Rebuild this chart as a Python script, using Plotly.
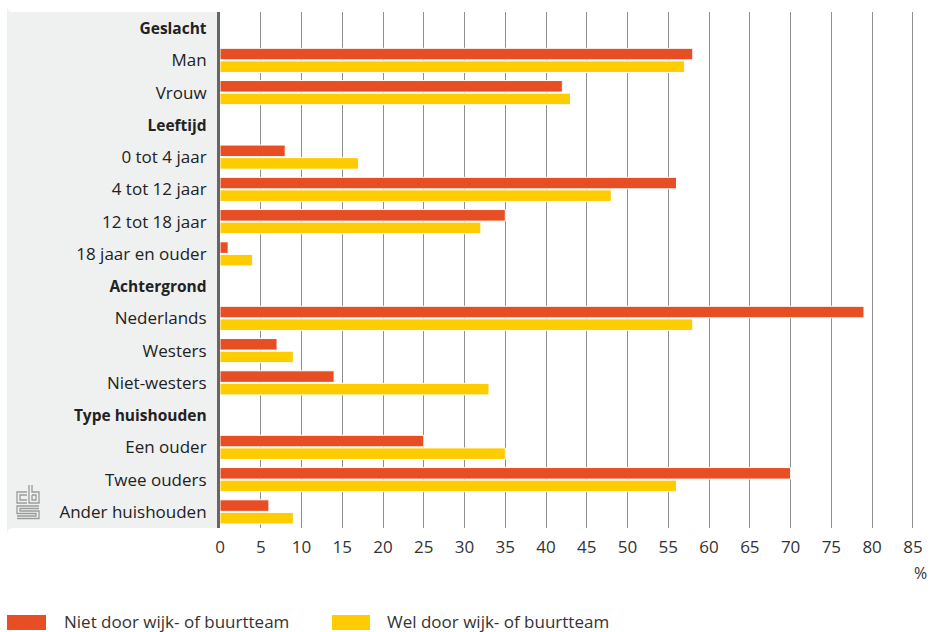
import plotly.graph_objects as go

B_ = "<span style='font-size:15.5px'><b>{}</b></span>"
categories = [B_.format("Geslacht"), "Man", "Vrouw", B_.format("Leeftijd"), "0 tot 4 jaar", "4 tot 12 jaar",
              "12 tot 18 jaar", "18 jaar en ouder", B_.format("Achtergrond"), "Nederlands", "Westers",
              "Niet-westers", B_.format("Type huishouden"), "Een ouder", "Twee ouders", "Ander huishouden"]
niet = [None, 58, 42, None, 8, 56, 35, 1, None, 79, 7, 14, None, 25, 70, 6]
wel = [None, 57, 43, None, 17, 48, 32, 4, None, 58, 9, 33, None, 35, 56, 9]
series_names = ["Niet door wijk- of buurtteam", "Wel door wijk- of buurtteam"]
colors = ["#E84E24", "#FFCC00"]
ticks = list(range(0, 90, 5))

FONT = "Open Sans"
fig = go.Figure()
for name, vals, c in zip(series_names, [niet, wel], colors):
    fig.add_trace(go.Bar(y=categories, x=vals, name=name, orientation="h",
                         marker=dict(color=c, line=dict(color="white", width=1)),
                         showlegend=False, hoverinfo="skip"))

W, H = 930, 632
L, R, T, B = 220, 0, 12, 104
pw, ph = W - L - R, H - T - B

def px(p):
    return (p - L) / pw

def py(p):
    return (T + ph - p) / ph

shapes = []
# gray label panel with rounded corners
x0, x1, y0, y1 = px(7), px(219), py(12), py(528)
r = 6
rx, ry = r / pw, r / ph
path = (f"M {x0+rx},{y0} L {x1},{y0} L {x1},{y1} L {x0+rx},{y1} "
        f"Q {x0},{y1} {x0},{y1-ry} L {x0},{y0+ry} Q {x0},{y0} {x0+rx},{y0} Z")
shapes.append(dict(type="path", path=path, xref="paper", yref="paper",
                   fillcolor="#EFF0F0", line=dict(width=0), layer="below"))

# legend swatches
annotations = []
leg = [(7, 46, 62), (332, 370, 385)]
for (a, b, t), name, c in zip(leg, series_names, colors):
    shapes.append(dict(type="rect", xref="paper", yref="paper", x0=px(a), x1=px(b),
                       y0=py(630), y1=py(615), fillcolor=c, line=dict(width=0)))
    annotations.append(dict(text=name, xref="paper", yref="paper", x=px(t), y=py(622),
                            xanchor="left", yanchor="middle", showarrow=False,
                            font=dict(family=FONT, size=17, color="#333333")))

annotations.append(dict(text="%", xref="paper", yref="paper", x=px(929), y=py(573),
                        xanchor="right", yanchor="middle", showarrow=False,
                        font=dict(family=FONT, size=16, color="#333333")))

# cbs logo (simple line drawing, pixel coords converted to paper)
logo_col = "#9A9A9A"
def pth(pts, close=False):
    s = "M " + " L ".join(f"{px(a)},{py(b)}" for a, b in pts)
    return s + (" Z" if close else "")
logo = [
    pth([(27, 492), (17, 492), (17, 503), (27, 503)]),
    pth([(27, 495), (20, 495), (20, 500), (27, 500)]),
    pth([(29, 485), (29, 503), (39, 503), (39, 492), (32, 492), (32, 485)]),
    pth([(32, 495), (36, 495), (36, 500), (32, 500), (32, 495)]),
    pth([(39, 506), (17, 506), (17, 513.5), (36, 513.5), (36, 516), (17, 516)]),
    pth([(39, 508.5), (20, 508.5), (20, 511), (39, 511), (39, 518.5), (17, 518.5)]),
]
for s in logo:
    shapes.append(dict(type="path", path=s, xref="paper", yref="paper",
                       line=dict(color=logo_col, width=1.3)))

fig.update_layout(
    width=W, height=H,
    margin=dict(l=L, r=R, t=T, b=B, autoexpand=False),
    paper_bgcolor="white", plot_bgcolor="white",
    barmode="group", bargap=0.22, bargroupgap=0.08,
    font=dict(family=FONT, size=17, color="#222222"),
    shapes=shapes, annotations=annotations,
    xaxis=dict(range=[0, 87.1], tickvals=ticks, showgrid=True, gridcolor="#8F8F8F",
               gridwidth=1, zeroline=False, showline=False, ticks="",
               ticklabelstandoff=7,
               tickfont=dict(family=FONT, size=17, color="#333333"), fixedrange=True),
    yaxis=dict(categoryorder="array", categoryarray=categories, autorange="reversed",
               showgrid=False, showline=True, linecolor="#666666", linewidth=3,
               ticks="", ticklabelstandoff=7, fixedrange=True,
               tickfont=dict(family=FONT, size=17, color="#222222")),
)

fig.write_html("out.html", config={"displayModeBar": False},
               post_script="document.body.style.margin='0';document.body.style.overflow='hidden';")
